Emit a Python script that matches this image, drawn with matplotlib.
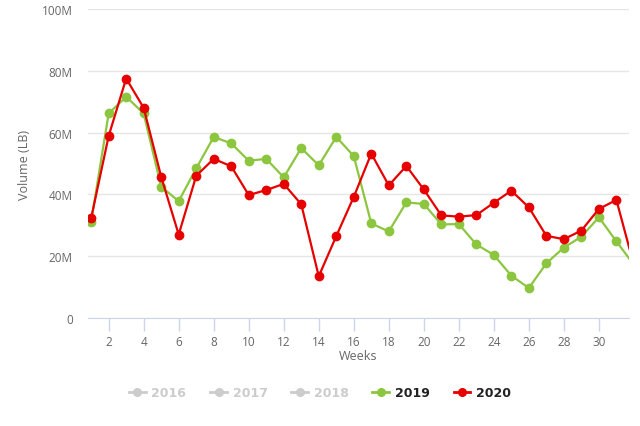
import matplotlib.pyplot as plt
from matplotlib.lines import Line2D
from matplotlib.ticker import FuncFormatter

plt.rcParams['font.family'] = ['Open Sans', 'DejaVu Sans']

# weekly volume, millions of LB
weeks = list(range(1, 33))
vol_2019 = [31.2, 66.2, 71.6, 66.2, 42.5, 37.8, 48.4, 58.6, 56.5, 50.9,
            51.5, 45.5, 55.0, 49.4, 58.6, 52.4, 30.6, 28.0, 37.4, 36.9,
            30.3, 30.4, 23.8, 20.4, 13.7, 9.7, 17.7, 22.8, 26.3, 32.6,
            24.8, 17.2]
vol_2020 = [32.3, 58.9, 77.5, 68.0, 45.7, 27.0, 46.0, 51.5, 49.1, 39.8,
            41.4, 43.4, 36.8, 13.5, 26.5, 39.2, 53.2, 42.9, 49.2, 41.6,
            33.2, 32.8, 33.3, 37.3, 41.2, 35.8, 26.6, 25.5, 28.3, 35.3,
            38.2, 17.1]
legend_years = ['2016', '2017', '2018', '2019', '2020']

green = '#8cc63f'
red = '#e60000'
grey = '#cccccc'

fig = plt.figure(figsize=(6.4, 4.27), dpi=100)
ax = fig.add_axes([88 / 640, 1 - 319 / 427, (629 - 88) / 640, (319 - 10) / 427])

# last week falls past the right edge, so no marker there
shown = list(range(len(weeks) - 1))
ax.plot(weeks, vol_2019, color=green, lw=1.6, marker='o', ms=6, markevery=shown, zorder=3)
ax.plot(weeks, vol_2020, color=red, lw=1.6, marker='o', ms=6, markevery=shown, zorder=4)

ax.set_xlim(0.82, 31.72)
ax.set_ylim(0, 100)
ax.set_yticks([0, 20, 40, 60, 80, 100])
ax.yaxis.set_major_formatter(FuncFormatter(lambda v, p: '0' if v == 0 else f'{int(v)}M'))
ax.set_xticks(range(2, 31, 2))

ax.grid(axis='y', color='#e6e6e6', lw=1)
ax.set_axisbelow(True)
for s in ['top', 'right', 'left']:
    ax.spines[s].set_visible(False)
ax.spines['bottom'].set_color('#ccd6eb')
ax.tick_params(axis='x', colors='#ccd6eb', length=9, width=1, labelcolor='#666666',
               labelsize=8.5, pad=3)
ax.tick_params(axis='y', length=0, labelcolor='#666666', labelsize=8.5, pad=11)

ax.set_xlabel('Weeks', color='#666666', fontsize=9, labelpad=1)
ax.set_ylabel('Volume (LB)', color='#666666', fontsize=9, labelpad=8)

handles = []
colors = [grey, grey, grey, green, red]
for c in colors:
    handles.append(Line2D([0], [0], color=c, lw=2, marker='o', ms=5.5))
leg = fig.legend(handles, legend_years, loc='center', bbox_to_anchor=(0.5, 1 - 394 / 427),
                 ncol=5, frameon=False, handlelength=1.35, columnspacing=1.9,
                 handletextpad=0.45,
                 prop={'family': 'DejaVu Sans', 'weight': 'bold', 'size': 9})
for t, c in zip(leg.get_texts(), [grey, grey, grey, '#222222', '#222222']):
    t.set_color(c)

fig.savefig('out.png', dpi=100)
